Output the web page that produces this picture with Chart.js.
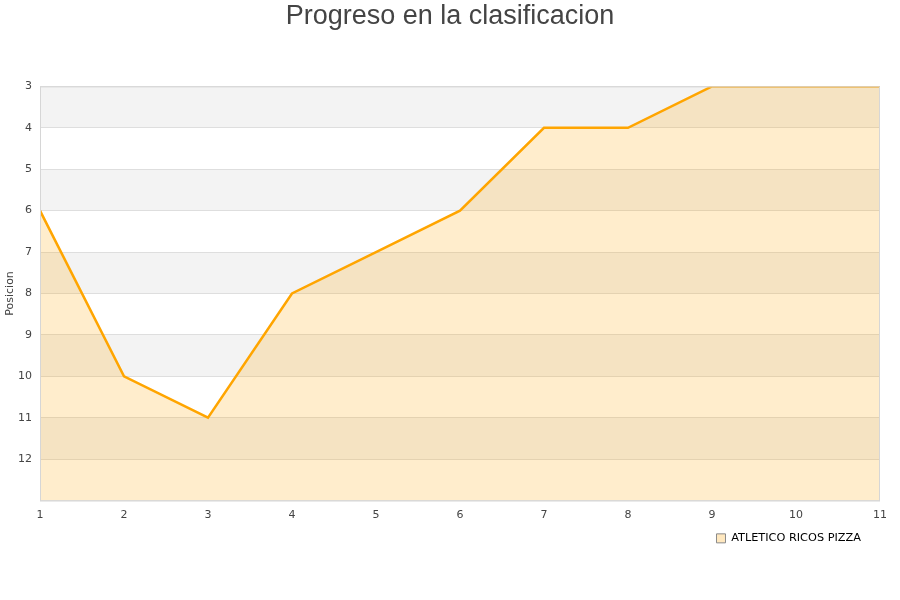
<!DOCTYPE html>
<html>
<head>
<meta charset="utf-8">
<script src="https://cdn.jsdelivr.net/npm/chart.js@4/dist/chart.umd.min.js"></script>
<style>
  html, body { margin: 0; padding: 0; background: #fff; }
  #wrap { width: 900px; height: 600px; }
</style>
</head>
<body>
<div id="wrap"><canvas id="myChart" width="900" height="600"></canvas></div>
<script>
var jornadas = [1, 2, 3, 4, 5, 6, 7, 8, 9, 10, 11];
var posiciones = [6, 10, 11, 8, 7, 6, 4, 4, 3, 3, 3];
var equipo = "ATLETICO RICOS PIZZA";
var titulo = "Progreso en la clasificacion";
var tituloY = "Posicion";
var posMin = 3, posMax = 13;

// franjas grises alternas y marco del area
var bandas = {
    id: 'bandas',
    afterLayout: function(chart) {
        // titulo centrado en todo el ancho, leyenda un poco a la izquierda
        chart.titleBlock.left = 0;
        chart.titleBlock.right = chart.width;
        chart.legend.right = 864;
    },
    beforeDraw: function(chart) {
        var ctx = chart.ctx, a = chart.chartArea, y = chart.scales.y;
        ctx.save();
        ctx.fillStyle = '#f3f3f3';
        for (var v = posMin; v < posMax; v += 2) {
            var y1 = y.getPixelForValue(v), y2 = y.getPixelForValue(v + 1);
            ctx.fillRect(a.left, Math.min(y1, y2), a.right - a.left, Math.abs(y2 - y1));
        }
        ctx.restore();
    },
    afterDatasetsDraw: function(chart) {
        var ctx = chart.ctx, a = chart.chartArea;
        ctx.save();
        ctx.strokeStyle = '#d6d6d6';
        ctx.lineWidth = 1;
        ctx.strokeRect(a.left + 0.5, a.top + 0.5, a.right - a.left - 1, a.bottom - a.top);
        ctx.restore();
    }
};

var data = {
    labels: jornadas,
    datasets: [{
        label: equipo,
        data: jornadas.map(function(j, i) { return {x: j, y: posiciones[i]}; }),
        borderColor: '#ffa500',
        backgroundColor: 'rgba(255, 165, 0, 0.2)',
        borderWidth: 2.5,
        pointRadius: 0,
        tension: 0,
        fill: 'start'
    }]
};

var ctx = document.getElementById('myChart').getContext('2d');
var myChart = new Chart(ctx, {
    type: 'line',
    data: data,
    plugins: [bandas],
    options: {
        responsive: false,
        animation: false,
        layout: { padding: { left: 0, right: 20, top: 0, bottom: 46 } },
        scales: {
            x: {
                type: 'linear',
                min: 1,
                max: 11,
                grid: { display: false, drawTicks: false },
                border: { display: false },
                ticks: {
                    stepSize: 1,
                    padding: 8,
                    color: '#444',
                    font: { family: 'DejaVu Sans', size: 11 }
                }
            },
            y: {
                reverse: true,
                min: posMin,
                max: posMax,
                afterFit: function(scale) { scale.width = 40; },
                grid: { color: '#dedede', drawTicks: false },
                border: { display: false },
                title: {
                    display: true,
                    text: tituloY,
                    color: '#444',
                    padding: { top: 4, bottom: 0 },
                    font: { family: 'DejaVu Sans', size: 11 }
                },
                ticks: {
                    stepSize: 1,
                    padding: 8,
                    color: '#444',
                    font: { family: 'DejaVu Sans', size: 11 },
                    callback: function(v) { return v === posMax ? '' : v; }
                }
            }
        },
        plugins: {
            title: {
                display: true,
                text: titulo,
                color: '#444',
                font: { family: 'Liberation Sans', size: 27, weight: 'normal' },
                padding: { top: 0, bottom: 54 }
            },
            legend: {
                position: 'bottom',
                align: 'end',
                labels: {
                    boxWidth: 9,
                    boxHeight: 9,
                    padding: 3,
                    color: '#000',
                    font: { family: 'DejaVu Sans', size: 11.3 },
                    generateLabels: function(chart) {
                        return chart.data.datasets.map(function(ds, i) {
                            return {
                                text: ds.label,
                                fillStyle: 'rgba(255, 165, 0, 0.25)',
                                strokeStyle: '#8a8a8a',
                                lineWidth: 1,
                                fontColor: '#000',
                                datasetIndex: i
                            };
                        });
                    }
                }
            },
            tooltip: { enabled: false }
        }
    }
});
</script>
</body>
</html>
